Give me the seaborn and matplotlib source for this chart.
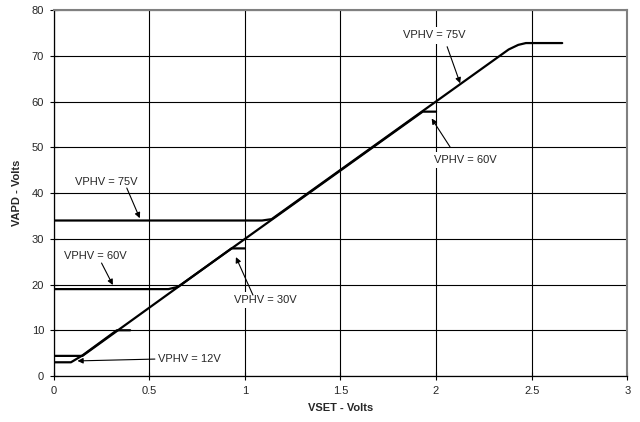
import matplotlib
matplotlib.use("Agg")
import matplotlib.pyplot as plt
import seaborn as sns
import pandas as pd

# Output voltage VAPD versus control voltage VSET for several supply levels
vphv75_x = [0.0, 1.09, 1.14, 2.38, 2.43, 2.47, 2.66]
vphv75_y = [34.0, 34.0, 34.3, 71.4, 72.4, 72.8, 72.8]

vphv60_x = [0.0, 0.60, 0.65, 1.93, 2.00]
vphv60_y = [19.0, 19.0, 19.5, 57.8, 57.8]

vphv30_x = [0.0, 0.15, 0.93, 1.00]
vphv30_y = [4.4, 4.4, 27.9, 27.9]

vphv12_x = [0.0, 0.09, 0.15, 0.33, 0.40]
vphv12_y = [3.0, 3.0, 4.5, 10.0, 10.0]

x_ticks = [0, 0.5, 1, 1.5, 2, 2.5, 3]
x_tick_labels = ["0", "0.5", "1", "1.5", "2", "2.5", "3"]
y_ticks = [0, 10, 20, 30, 40, 50, 60, 70, 80]

curves = pd.concat([
    pd.DataFrame({"VSET": vphv75_x, "VAPD": vphv75_y, "curve": "VPHV = 75V"}),
    pd.DataFrame({"VSET": vphv60_x, "VAPD": vphv60_y, "curve": "VPHV = 60V"}),
    pd.DataFrame({"VSET": vphv30_x, "VAPD": vphv30_y, "curve": "VPHV = 30V"}),
    pd.DataFrame({"VSET": vphv12_x, "VAPD": vphv12_y, "curve": "VPHV = 12V"}),
], ignore_index=True)

# Callout labels: (text, text centre, arrow start, arrow tip)
labels = [
    ("VPHV = 75V", (0.277, 42.5), (0.382, 41.1), (0.450, 34.5)),
    ("VPHV = 60V", (0.215, 26.2), (0.250, 24.7), (0.309, 19.9)),
    ("VPHV = 30V", (1.105, 16.6), (1.042, 17.7), (0.953, 26.0)),
    ("VPHV = 12V", (0.712, 3.7), (0.529, 3.7), (0.124, 3.3)),
    ("VPHV = 60V", (2.152, 47.2), (2.073, 50.1), (1.977, 56.3)),
    ("VPHV = 75V", (1.990, 74.5), (2.058, 72.0), (2.126, 64.0)),
]

sns.set_theme(style="white")
plt.rcParams["font.family"] = ["Liberation Sans", "DejaVu Sans"]

fig = plt.figure(figsize=(6.4, 4.22), dpi=100)
ax = fig.add_axes([0.084, 0.109, 0.896, 0.867])

ax.set_xlim(0, 3)
ax.set_ylim(0, 80)
ax.set_xticks(x_ticks)
ax.set_xticklabels(x_tick_labels)
ax.set_yticks(y_ticks)

ax.grid(True, color="black", linewidth=0.8)
ax.set_axisbelow(True)

sns.lineplot(data=curves, x="VSET", y="VAPD", units="curve", estimator=None,
             sort=False, color="black", linewidth=1.6, ax=ax, zorder=3)

for text, pos, start, tip in labels:
    ax.text(pos[0], pos[1], text, fontsize=8, ha="center", va="center", zorder=4,
            bbox=dict(boxstyle="square,pad=0.3", fc="white", ec="none"))
    ax.annotate("", xy=tip, xytext=start,
                arrowprops=dict(arrowstyle="-|>", color="black", lw=0.8,
                                mutation_scale=8, shrinkA=0, shrinkB=0),
                zorder=5)

for side in ("left", "bottom"):
    ax.spines[side].set_color("black")
    ax.spines[side].set_linewidth(0.9)
for side in ("top", "right"):
    ax.spines[side].set_color("#808080")
    ax.spines[side].set_linewidth(1.5)

ax.tick_params(axis="both", which="major", direction="inout", length=6, width=0.8,
               color="black", labelsize=8, left=True, bottom=True, pad=4)

ax.set_xlabel("VSET - Volts", fontsize=8, fontweight="bold", labelpad=5)
ax.set_ylabel("VAPD - Volts", fontsize=8, fontweight="bold", labelpad=7)

fig.savefig("out.png", dpi=100)
